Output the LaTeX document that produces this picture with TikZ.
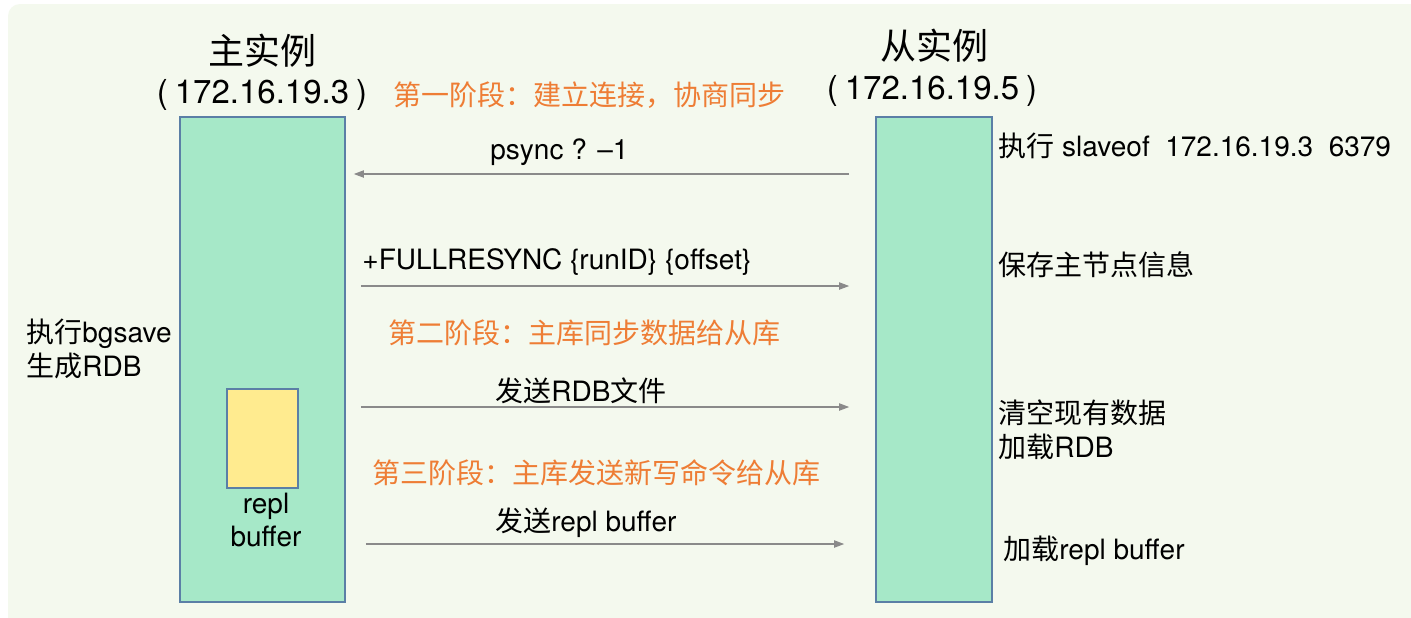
\documentclass[tikz,border=0pt]{standalone}
\usepackage{fontspec}
\setmainfont{TeX Gyre Heros}
\newfontfamily\cjk{Noto Sans CJK SC}
\usetikzlibrary{arrows.meta}
\definecolor{bgc}{HTML}{F4F9EE}
\definecolor{boxfill}{HTML}{A6E8C8}
\definecolor{boxline}{HTML}{5B7FA6}
\definecolor{yel}{HTML}{FFEB8F}
\definecolor{org}{HTML}{EE7D35}
\definecolor{arrc}{HTML}{8A8A8A}
\newcommand\zh[1]{{\cjk #1}}
\begin{document}
\begin{tikzpicture}[x=0.5pt,y=-0.5pt,
  inst/.style={draw=boxline, fill=boxfill, line width=0.8pt, inner sep=0pt, minimum height=242.5pt},
  buf/.style={draw=boxline, fill=yel, line width=0.8pt, inner sep=0pt, minimum width=35.5pt, minimum height=49.5pt},
  title/.style={inner sep=0pt, font=\fontsize{18pt}{22pt}\selectfont},
  iptxt/.style={inner sep=0pt, font=\fontsize{16.5pt}{20pt}\selectfont},
  txt/.style={inner sep=0pt, anchor=west, align=left, font=\fontsize{14pt}{17pt}\selectfont},
  ctxt/.style={inner sep=0pt, align=center, font=\fontsize{14pt}{16.5pt}\selectfont},
  phase/.style={inner sep=0pt, anchor=west, text=org, font=\fontsize{14pt}{17pt}\selectfont\cjk},
  msg/.style={draw=arrc, line width=0.6pt, -{Triangle[length=5pt,width=3.6pt]}}
]
\useasboundingbox (0,0) rectangle (1411,617);
\fill[white] (0,0) rectangle (1411,617);
\clip (0,0) rectangle (1411,617);
\fill[bgc, rounded corners=6pt] (8,4) rectangle (1430,640);

% instances
\node[inst, minimum width=82.5pt] (master) at (262.5,359.5) {};
\node[inst, minimum width=58pt] (slave) at (934,359.5) {};
\node[buf] (buffer) at (262.5,438.5) {};

% titles
\node[title] (mtitle) at (262,51) {\zh{主实例}};
\node[iptxt] (mip) at (262,95) {(\hspace{3.5pt}172.16.19.3\hspace{3.5pt})};
\node[title] (stitle) at (934,46) {\zh{从实例}};
\node[iptxt] (sip) at (932,91) {(\hspace{3.5pt}172.16.19.5\hspace{3.5pt})};

% phases
\node[phase] (p1) at (393,95) {第一阶段：建立连接，协商同步};
\node[phase] (p2) at (388,333) {第二阶段：主库同步数据给从库};
\node[phase] (p3) at (372,473) {第三阶段：主库发送新写命令给从库};

% row coordinates
\coordinate (r1) at (0,174);
\coordinate (r2) at (0,286);
\coordinate (r3) at (0,407);
\coordinate (r4) at (0,544);

% messages
\draw[msg, shorten <=13pt, shorten >=4pt] (slave.west |- r1) -- (master.east |- r1);
\draw[msg, shorten <=7.5pt, shorten >=13pt] (master.east |- r2) -- (slave.west |- r2);
\draw[msg, shorten <=7.5pt, shorten >=13pt] (master.east |- r3) -- (slave.west |- r3);
\draw[msg, shorten <=10pt, shorten >=15.5pt] (master.east |- r4) -- (slave.west |- r4);

% message labels
\node[txt] (l1) at (490,152) {psync ? --1};
\node[txt] (l2) at (362,262) {+FULLRESYNC \{runID\} \{offset\}};
\node[txt] (l3) at (495,391) {\zh{发送}RDB\zh{文件}};
\node[txt] (l4) at (495,523) {\zh{发送}repl buffer};

% side notes
\node[txt] (s1) at (998,146) {\zh{执行} slaveof\ \ 172.16.19.3\ \ 6379};
\node[txt] (s2) at (998,265) {\zh{保存主节点信息}};
\node[txt, anchor=north west] (s3) at (998,399) {\zh{清空现有数据}\\\zh{加载}RDB};
\node[txt] (s4) at (1003,551) {\zh{加载}repl buffer};
\node[txt, anchor=north west] (m1) at (26,319) {\zh{执行}bgsave\\\zh{生成}RDB};

% buffer label
\node[ctxt, anchor=north] (bl) at (266,493) {repl\\buffer};
\end{tikzpicture}
\end{document}
